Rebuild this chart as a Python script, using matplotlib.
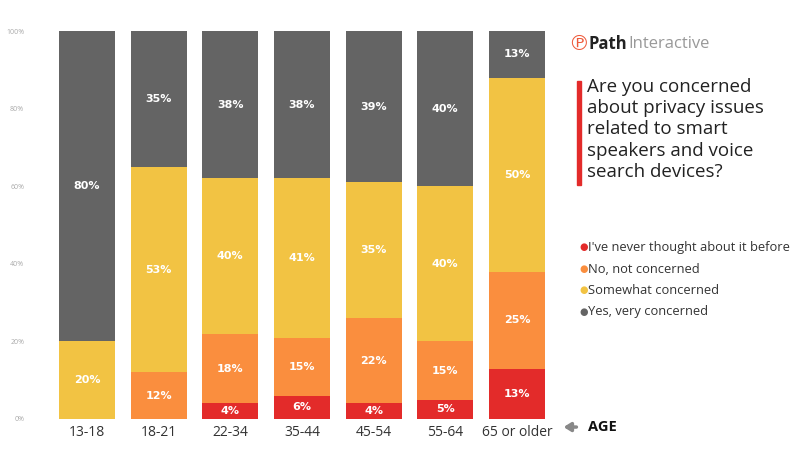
import numpy as np
import matplotlib.pyplot as plt
from matplotlib.patches import Rectangle

# data
ages = ['13-18', '18-21', '22-34', '35-44', '45-54', '55-64', '65 or older']
never = [0, 0, 4, 6, 4, 5, 13]
not_concerned = [0, 12, 18, 15, 22, 15, 25]
somewhat = [20, 53, 40, 41, 35, 40, 50]
very = [80, 35, 38, 38, 39, 40, 13]
series_names = ["I've never thought about it before", 'No, not concerned',
                'Somewhat concerned', 'Yes, very concerned']
colors = ['#E32B2A', '#FA8E3E', '#F2C343', '#646464']

plt.rcParams['font.family'] = ['Open Sans', 'DejaVu Sans']

fig = plt.figure(figsize=(8, 4.5), dpi=100)
ax = fig.add_axes([0.0684, 0.0689, 0.618, 0.862])

x = np.arange(len(ages))
bottom = np.zeros(len(ages))
for vals, col in zip([never, not_concerned, somewhat, very], colors):
    vals = np.array(vals, dtype=float)
    ax.bar(x, vals, bottom=bottom, width=0.78, color=col, edgecolor='none')
    for xi, b, v in zip(x, bottom, vals):
        if v > 0:
            top = min(b + v, 100)
            ax.text(xi, (b + top) / 2, f'{int(v)}%', ha='center', va='center',
                    color='white', fontsize=8, fontweight='bold',
                    family=['DejaVu Sans'])
    bottom += vals

ax.set_xlim(-0.45, 6.45)
ax.set_ylim(0, 100)
ax.set_yticks([0, 20, 40, 60, 80, 100])
ax.set_yticklabels(['0%', '20%', '40%', '60%', '80%', '100%'])
ax.set_xticks(x)
ax.set_xticklabels(ages)
ax.tick_params(axis='y', length=0, labelsize=5, labelcolor='#aaaaaa', pad=22)
ax.tick_params(axis='x', length=0, labelsize=10, labelcolor='#333333', pad=4)
for s in ax.spines.values():
    s.set_visible(False)

# AGE marker with thick gray arrow
fig.add_artist(plt.Annotation('', xy=(0.701, 0.051), xytext=(0.724, 0.051),
                              xycoords='figure fraction', textcoords='figure fraction',
                              arrowprops=dict(arrowstyle='-|>,head_length=0.4,head_width=0.25',
                                              color='#888888', lw=2.5)))
fig.text(0.735, 0.051, 'AGE', color='#111111', fontsize=10.5, fontweight='bold', va='center')

# logo
fig.text(0.723, 0.902, '\u2117', color='#EE5A3B', fontsize=15, va='center', ha='center',
         family=['DejaVu Sans'])
t = fig.text(0.735, 0.902, 'Path', color='#222222', fontsize=12, fontweight='bold', va='center')
fig.canvas.draw()
bb = t.get_window_extent().transformed(fig.transFigure.inverted())
fig.text(bb.x1 + 0.002, 0.902, 'Interactive', color='#999999', fontsize=12, va='center')

# question with red bar
fig.patches.append(Rectangle((0.7215, 0.588), 0.0045, 0.233, transform=fig.transFigure,
                             color='#E32B2A'))
question = 'Are you concerned\nabout privacy issues\nrelated to smart\nspeakers and voice\nsearch devices?'
fig.text(0.734, 0.826, question, color='#222222', fontsize=13.5, va='top', ha='left',
         linespacing=1.22)

# legend
ly = [0.451, 0.402, 0.355, 0.307]
for name, col, yy in zip(series_names, colors, ly):
    fig.text(0.729, yy, '\u25cf', color=col, fontsize=7, va='center', ha='center',
             family=['DejaVu Sans'])
    fig.text(0.735, yy, name, color='#333333', fontsize=9.3, va='center')

fig.savefig('out.png', dpi=100)
